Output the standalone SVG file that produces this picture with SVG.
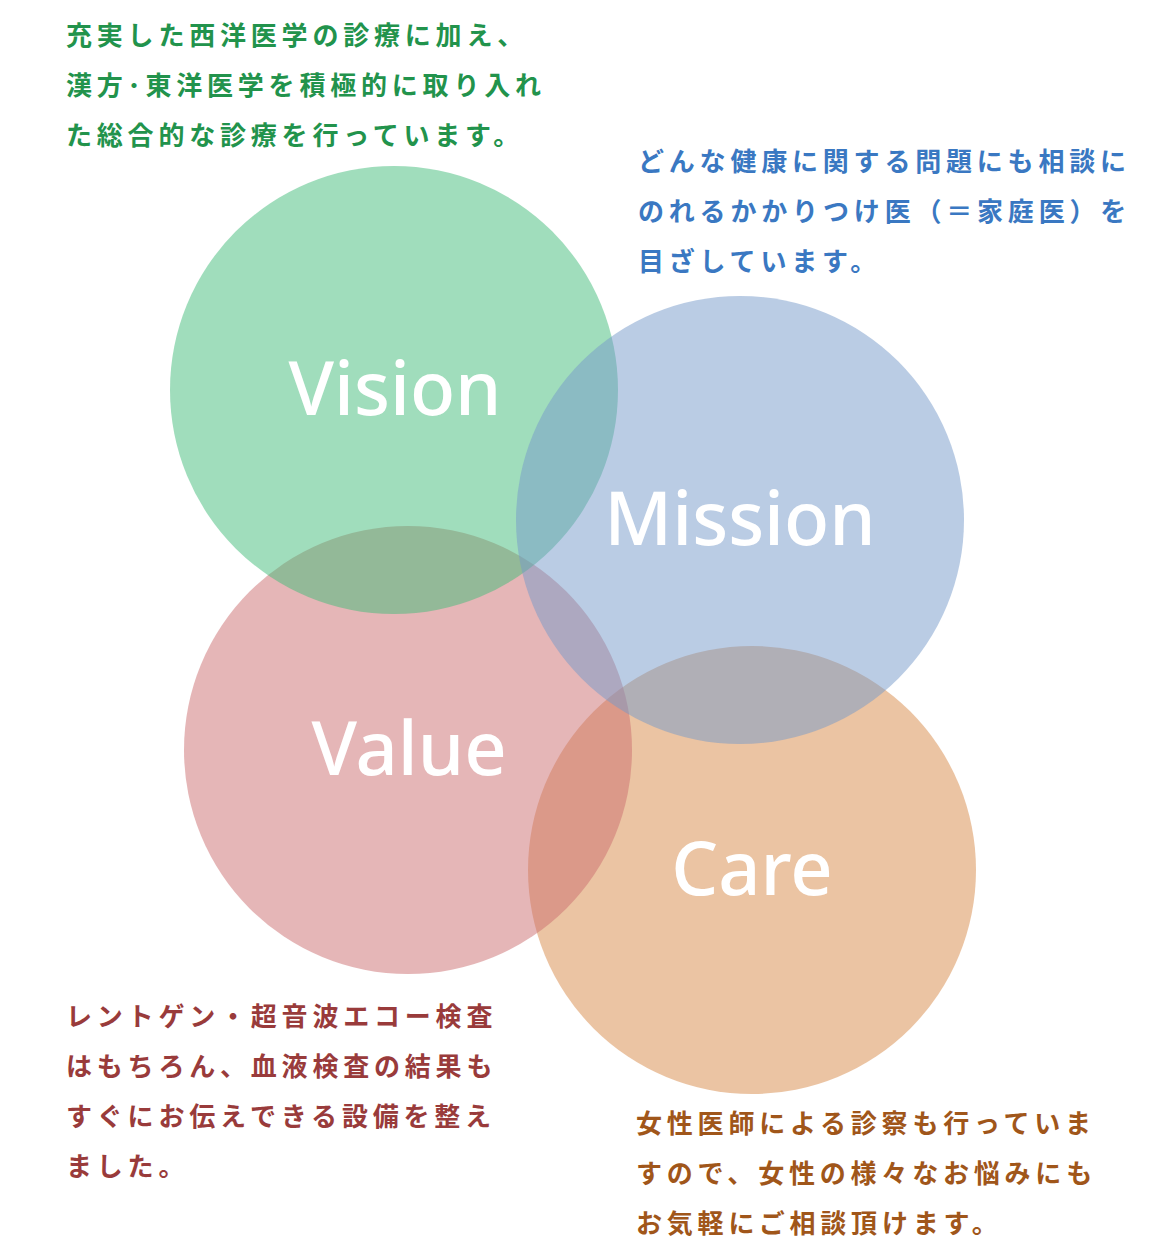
<svg xmlns="http://www.w3.org/2000/svg" width="1170" height="1250" viewBox="0 0 1170 1250">
<style>
.c{opacity:0.5}
.lbl{font-family:"Noto Sans","Open Sans",sans-serif;font-weight:500;font-size:74px;fill:#fff;text-anchor:middle}
.jp{font-family:"Noto Sans CJK JP","Noto Sans",sans-serif;font-weight:700;font-size:26px;letter-spacing:4.8px}
.g{fill:#22934C}.b{fill:#3A78C2}.r{fill:#993B3B}.o{fill:#A0561A}
</style>
<rect width="1170" height="1250" fill="#fff"/>
<g id="care">
<circle class="c" cx="752" cy="870" r="224" fill="#D78947"/>
</g>
<g id="value">
<circle class="c" cx="408" cy="750" r="224" fill="#CB6D6F"/>
</g>
<g id="vision">
<circle class="c" cx="394" cy="390" r="224" fill="#42BB79"/>
</g>
<g id="mission">
<circle class="c" cx="740" cy="520" r="224" fill="#7599C9"/>
</g>
<g id="labels">
<text class="lbl" x="395" y="415">Vision</text>
<text class="lbl" x="740" y="545">Mission</text>
<text class="lbl" x="409" y="775">Value</text>
<text class="lbl" x="752" y="895">Care</text>
</g>
<g id="text-vision" class="jp g">
<text x="66" y="45">充実した西洋医学の診療に加え、</text>
<text x="66" y="95">漢方･東洋医学を積極的に取り入れ</text>
<text x="66" y="145">た総合的な診療を行っています。</text>
</g>
<g id="text-mission" class="jp b">
<text x="638" y="171">どんな健康に関する問題にも相談に</text>
<text x="638" y="221">のれるかかりつけ医（＝家庭医）を</text>
<text x="638" y="271">目ざしています。</text>
</g>
<g id="text-value" class="jp r">
<text x="66" y="1026">レントゲン・超音波エコー検査</text>
<text x="66" y="1076">はもちろん、血液検査の結果も</text>
<text x="66" y="1126">すぐにお伝えできる設備を整え</text>
<text x="66" y="1176">ました。</text>
</g>
<g id="text-care" class="jp o">
<text x="636" y="1133">女性医師による診察も行っていま</text>
<text x="636" y="1183">すので、女性の様々なお悩みにも</text>
<text x="636" y="1233">お気軽にご相談頂けます。</text>
</g>
</svg>
